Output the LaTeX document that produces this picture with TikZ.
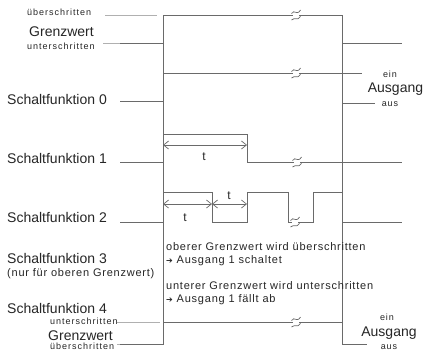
\documentclass[tikz,border=0pt]{standalone}
\usepackage{fontspec}
\setmainfont{Liberation Sans}
\newfontfamily\sfnt[LetterSpace=11]{Liberation Sans}
\newfontfamily\mfnt[LetterSpace=7]{Liberation Sans}
\newfontfamily\dvs{DejaVu Sans}
\usetikzlibrary{arrows.meta}
\definecolor{trc}{HTML}{6A6A6A}
\definecolor{txc}{HTML}{262626}
\definecolor{tickc}{HTML}{B0B0B0}
\newcommand{\rarr}{{\dvs\fontsize{8}{10}\selectfont ➔}}
\begin{document}
\begin{tikzpicture}[x=1pt,y=-1pt,
  trace/.style={draw=trc, line width=0.9pt, line join=miter},
  tk/.style={draw=tickc, line width=0.9pt},
  big/.style={text=txc, font=\fontsize{14}{16}\selectfont, inner sep=0pt},
  sml/.style={text=txc, font=\sfnt\fontsize{9}{10}\selectfont, inner sep=0pt},
  mid/.style={text=txc, font=\mfnt\fontsize{11}{13}\selectfont, inner sep=0pt},
  tlab/.style={text=txc, font=\fontsize{12}{14}\selectfont, inner sep=0pt},
  dimline/.style={draw=trc, line width=0.7pt, {Straight Barb[length=5pt,width=8pt]}-{Straight Barb[length=5pt,width=8pt]}},
  brk/.pic={
    \fill[white] (-2.8,-1.6) rectangle (2.8,1.6);
    \draw[draw=trc, line width=0.7pt] (-4.5,-1.4) .. controls (-1.5,-6.5) and (0.5,1.5) .. (4.5,-5);
    \draw[draw=trc, line width=0.7pt] (-4.5,5) .. controls (-0.5,1.5) and (1.5,6.5) .. (4.5,1.4);
  }]
\useasboundingbox (0,0) rectangle (428,356);
\fill[white] (0,0) rectangle (428,356);

% reference verticals
\draw[trace] (163,15) -- (163,345);
\draw[trace] (342,15) -- (342,345);

% label ticks
\draw[tk] (105,15) -- (157,15);
\draw[tk] (103,43) -- (120,43);
\draw[tk] (117,322) -- (160,322);
\draw[tk] (117,344) -- (120,344);

% Grenzwert
\draw[trace] (120,43) -- (163,43) -- (163,15) -- (342,15) -- (342,43) -- (402,43);
% Schaltfunktion 0
\draw[trace] (120,101) -- (163,101) -- (163,73) -- (362,73);
\draw[trace] (342,103) -- (375,103);
% Schaltfunktion 1
\draw[trace] (120,162) -- (163,162) -- (163,134) -- (247,134) -- (247,162) -- (402,162);
% Schaltfunktion 2
\draw[trace] (120,222) -- (163,222) -- (163,192) -- (212,192) -- (212,222) -- (247,222) -- (247,192) -- (288,192) -- (288,222) -- (313,222) -- (313,192) -- (342,192) -- (342,222) -- (402,222);
% Schaltfunktion 4
\draw[trace] (120,344) -- (163,344) -- (163,322) -- (342,322) -- (342,344) -- (367,344);

% breaks
\pic at (296,15) {brk};
\pic at (296,73) {brk};
\pic at (297,162) {brk};
\pic at (295,222) {brk};
\pic at (296,322) {brk};

% dimension arrows
\coordinate (d1a) at (163,145);
\coordinate (d1b) at (247,145);
\coordinate (d2a) at (163,204);
\coordinate (d2b) at (212,204);
\coordinate (d2c) at (247,204);
\draw[dimline] (d1a) -- (d1b);
\draw[dimline] (d2a) -- (d2b);
\draw[dimline] (d2b) -- (d2c);
\node[tlab] (t1) at (204,157) {t};
\node[tlab] (t2) at (185,218) {t};
\node[tlab] (t3) at (229,196) {t};

% left labels
\node[sml, anchor=base west] (ue1) at (27,16) {überschritten};
\node[big, anchor=base west] (gw1) at (29,36) {Grenzwert};
\node[sml, anchor=base west] (un1) at (27,49) {unterschritten};
\node[big, anchor=base west] (s0) at (7,104) {Schaltfunktion 0};
\node[big, anchor=base west] (s1) at (7,163) {Schaltfunktion 1};
\node[big, anchor=base west] (s2) at (7,222) {Schaltfunktion 2};
\node[big, anchor=base west] (s3) at (7,263) {Schaltfunktion 3};
\node[mid, anchor=base west] (s3n) at (7,276) {(nur für oberen Grenzwert)};
\node[big, anchor=base west] (s4) at (7,313) {Schaltfunktion 4};
\node[sml, anchor=base west] (un2) at (50,324) {unterschritten};
\node[big, anchor=base west] (gw2) at (48,340) {Grenzwert};
\node[sml, anchor=base west] (ue2) at (50,349) {überschritten};

% middle texts
\node[mid, anchor=base west] (m1) at (166,250) {oberer Grenzwert wird überschritten};
\node[mid, anchor=base west] (m2) at (166,263) {\rarr\ Ausgang 1 schaltet};
\node[mid, anchor=base west] (m3) at (166,289) {unterer Grenzwert wird unterschritten};
\node[mid, anchor=base west] (m4) at (166,302) {\rarr\ Ausgang 1 fällt ab};

% right labels
\node[sml, anchor=base] (ein1) at (390,77) {ein};
\node[big, anchor=base] (ag1) at (395.5,92) {Ausgang};
\node[sml, anchor=base] (aus1) at (390,106) {aus};
\node[sml, anchor=base] (ein2) at (387,320) {ein};
\node[big, anchor=base] (ag2) at (389,336) {Ausgang};
\node[sml, anchor=base] (aus2) at (389,349) {aus};
\end{tikzpicture}
\end{document}
